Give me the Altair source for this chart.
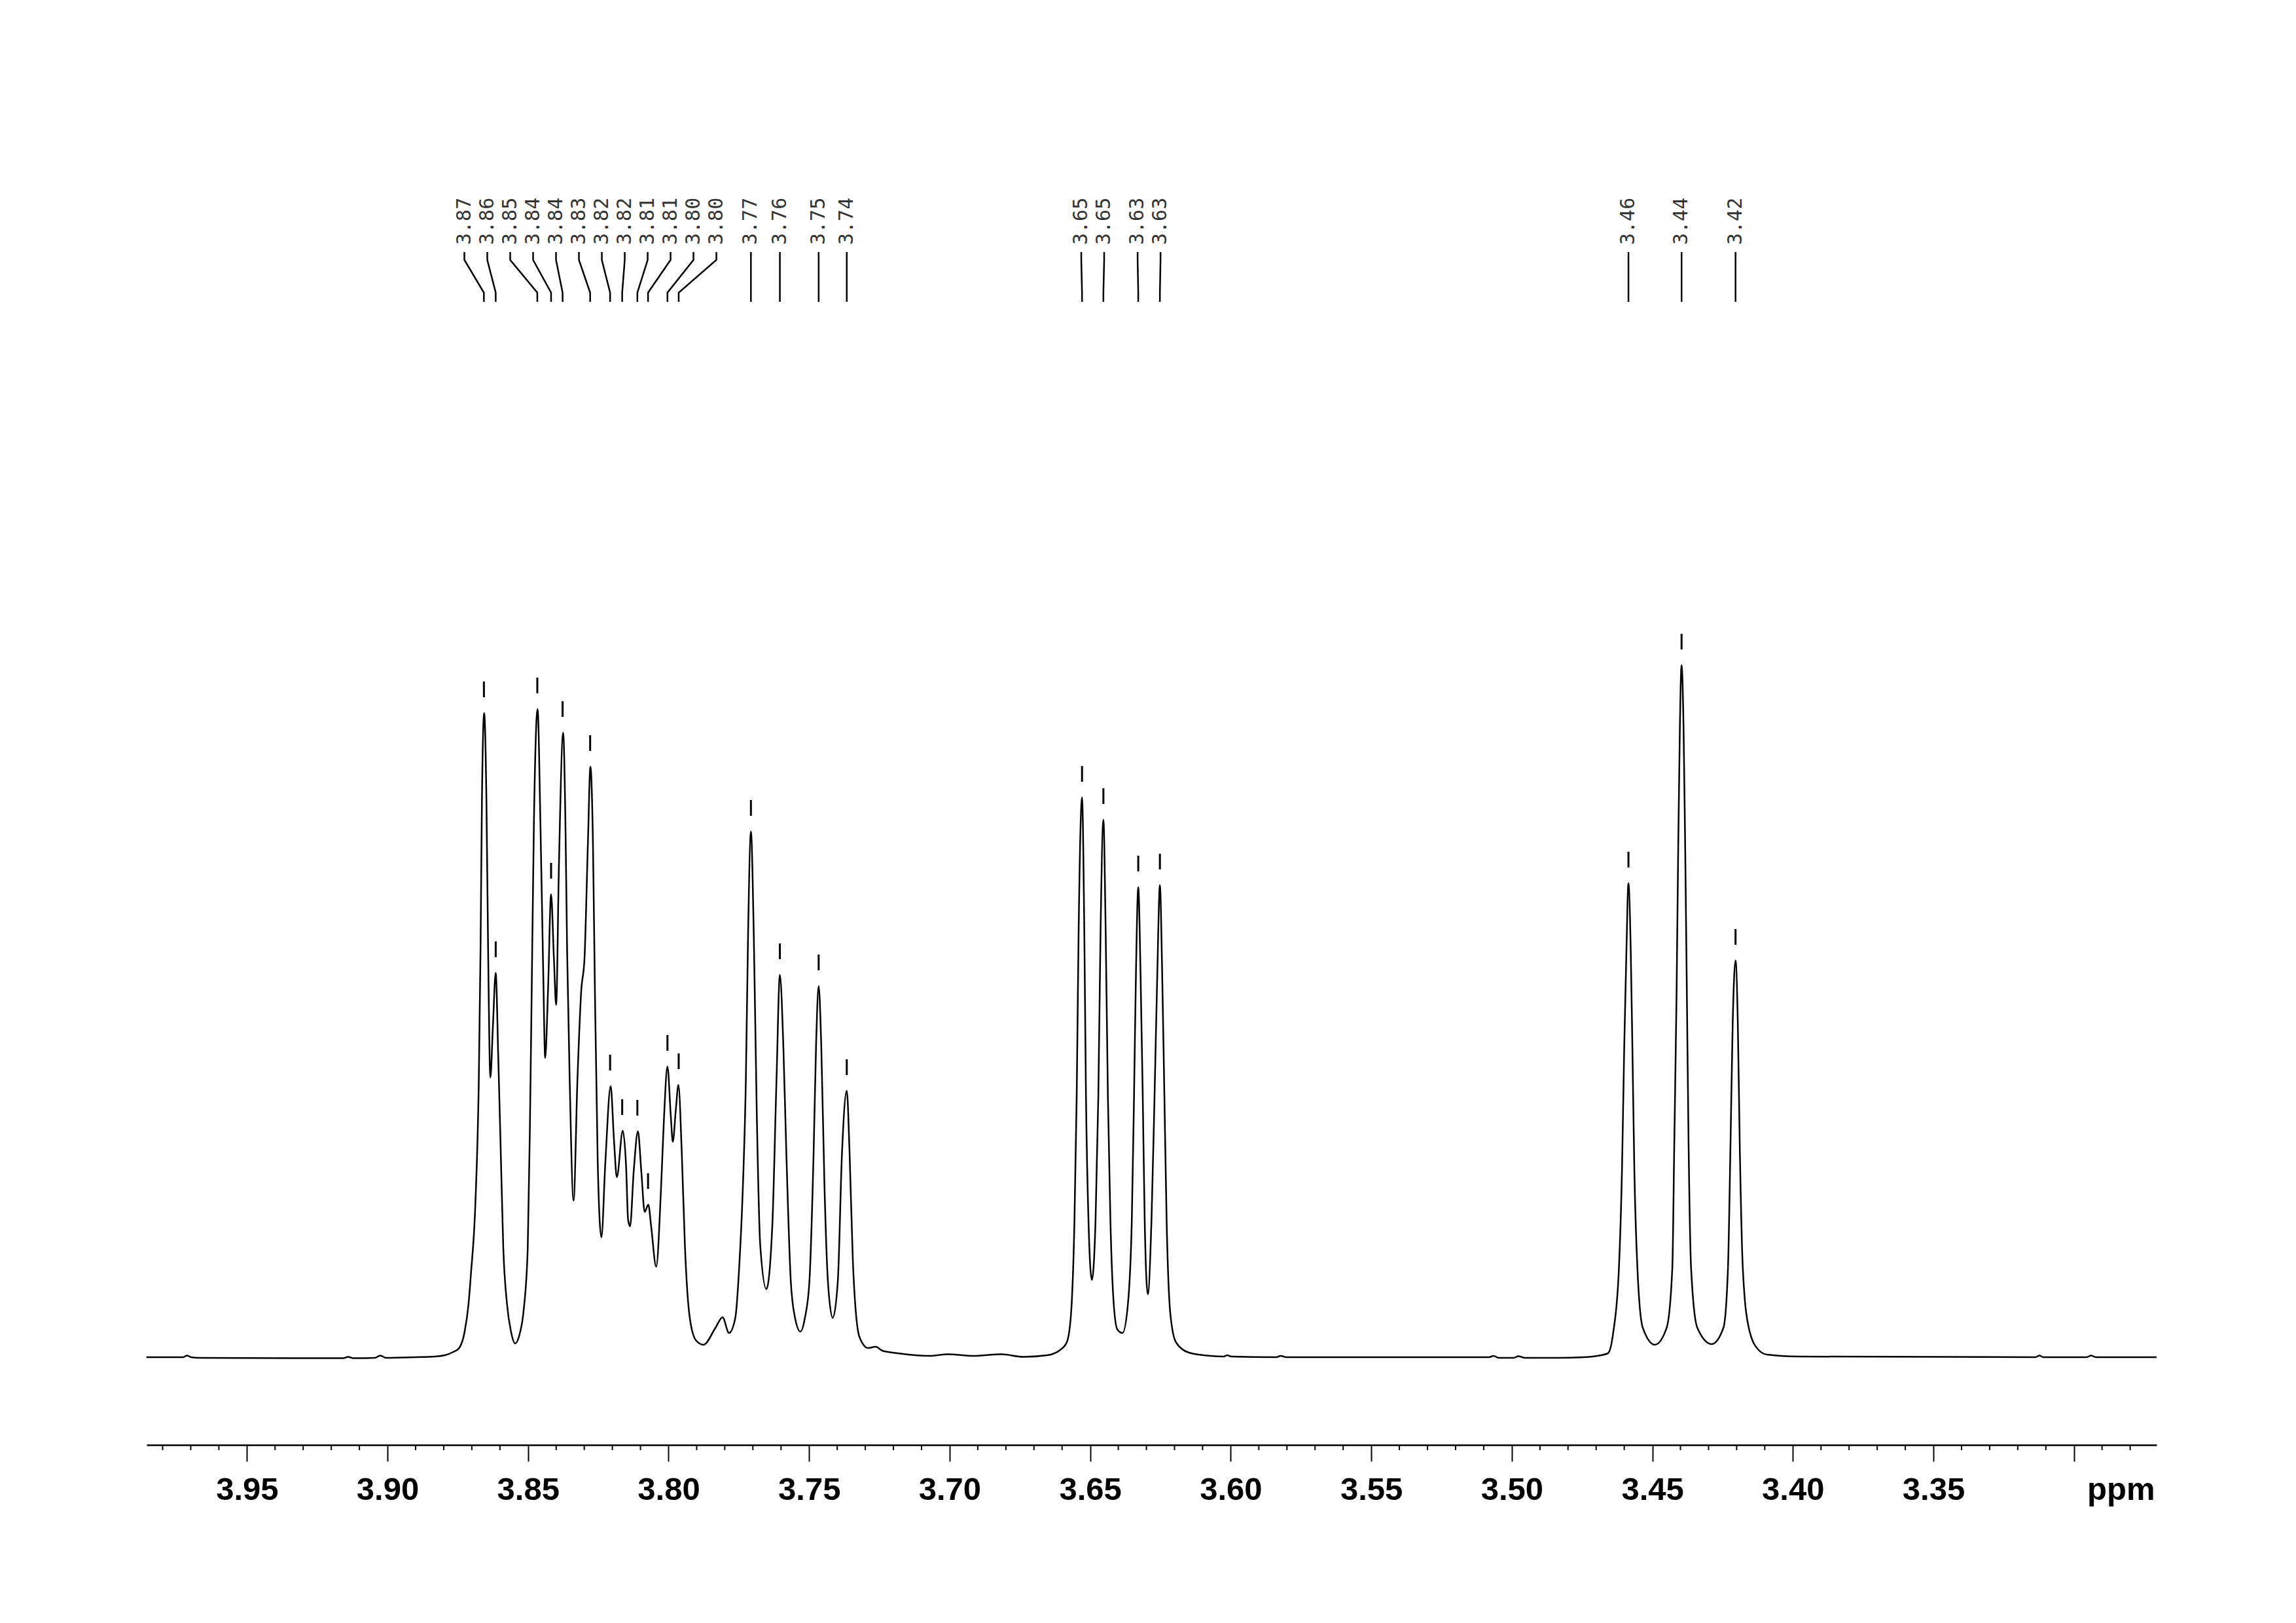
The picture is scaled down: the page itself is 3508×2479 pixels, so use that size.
import altair as alt
import pandas as pd

# ---------------- data ----------------
spectrum_ppm = [
    3.9858, 3.9769, 3.9727, 3.9713, 3.9699, 3.9669, 3.9157, 3.9140, 3.9122, 3.9045,
    3.9026, 3.9005, 3.8901, 3.8833, 3.8796, 3.8766, 3.8745, 3.8726, 3.8712, 3.8703,
    3.8687, 3.8675, 3.8669, 3.8664, 3.8656, 3.8648, 3.8642, 3.8634, 3.8625, 3.8615,
    3.8606, 3.8598, 3.8588, 3.8575, 3.8561, 3.8546, 3.8530, 3.8516, 3.8501, 3.8493,
    3.8487, 3.8479, 3.8466, 3.8456, 3.8446, 3.8439, 3.8429, 3.8418, 3.8408, 3.8400,
    3.8390, 3.8375, 3.8367, 3.8361, 3.8352, 3.8338, 3.8324, 3.8311, 3.8299, 3.8287,
    3.8278, 3.8269, 3.8262, 3.8252, 3.8239, 3.8225, 3.8206, 3.8194, 3.8184, 3.8163,
    3.8151, 3.8144, 3.8137, 3.8124, 3.8109, 3.8097, 3.8085, 3.8072, 3.8062, 3.8044,
    3.8027, 3.8016, 3.8004, 3.7992, 3.7985, 3.7974, 3.7965, 3.7953, 3.7942, 3.7926,
    3.7903, 3.7876, 3.7833, 3.7808, 3.7785, 3.7763, 3.7748, 3.7736, 3.7725, 3.7717,
    3.7707, 3.7697, 3.7686, 3.7674, 3.7652, 3.7631, 3.7616, 3.7604, 3.7592, 3.7581,
    3.7565, 3.7550, 3.7531, 3.7515, 3.7499, 3.7484, 3.7475, 3.7466, 3.7457, 3.7445,
    3.7433, 3.7416, 3.7398, 3.7383, 3.7366, 3.7356, 3.7344, 3.7321, 3.7290, 3.7263,
    3.7240, 3.7184, 3.7072, 3.7006, 3.6916, 3.6816, 3.6739, 3.6653, 3.6607, 3.6583,
    3.6568, 3.6556, 3.6548, 3.6541, 3.6529, 3.6521, 3.6515, 3.6506, 3.6494, 3.6481,
    3.6471, 3.6463, 3.6453, 3.6445, 3.6437, 3.6428, 3.6416, 3.6403, 3.6385, 3.6366,
    3.6352, 3.6344, 3.6337, 3.6329, 3.6321, 3.6313, 3.6306, 3.6295, 3.6282, 3.6271,
    3.6261, 3.6252, 3.6244, 3.6236, 3.6228, 3.6215, 3.6195, 3.6149, 3.6071, 3.6025,
    3.6013, 3.5997, 3.5838, 3.5822, 3.5803, 3.5629, 3.5081, 3.5065, 3.5046, 3.4993,
    3.4977, 3.4953, 3.4837, 3.4744, 3.4697, 3.4658, 3.4639, 3.4619, 3.4608, 3.4600,
    3.4592, 3.4585, 3.4577, 3.4571, 3.4564, 3.4553, 3.4534, 3.4491, 3.4449, 3.4429,
    3.4422, 3.4414, 3.4408, 3.4402, 3.4396, 3.4389, 3.4383, 3.4377, 3.4371, 3.4362,
    3.4340, 3.4289, 3.4247, 3.4231, 3.4222, 3.4214, 3.4204, 3.4196, 3.4189, 3.4178,
    3.4157, 3.4122, 3.4092, 3.3975, 3.3137, 3.3123, 3.3109, 3.2955, 3.2939, 3.2922,
    3.2706,
]
spectrum_intensity = [
    0, 0, 0, 2.5, 0, -1, -1.5, 0.5, -1.5, -1,
    2.5, -1, 0, 1, 3, 8, 14, 38, 80, 128,
    238, 427, 623, 850, 984, 850, 623, 427, 505, 587,
    460, 330, 167, 82, 40, 21, 35, 70, 167, 362,
    558, 818, 990, 818, 590, 457, 558, 707, 610, 538,
    753, 954, 818, 623, 427, 239, 427, 558, 610, 785,
    902, 785, 558, 297, 183, 297, 414, 330, 275, 346,
    290, 210, 200, 284, 345, 284, 222, 233, 200, 138,
    256, 368, 444, 368, 329, 379, 416, 312, 172, 65,
    26, 19, 45, 61, 37, 59, 143, 256, 424, 649,
    803, 649, 368, 172, 104, 200, 424, 584, 480, 312,
    115, 60, 39, 60, 115, 312, 480, 567, 480, 256,
    115, 60, 115, 312, 407, 312, 143, 31, 14, 16,
    10, 6, 2, 4.5, 2, 4.5, 0.5, 3, 11, 23,
    67, 208, 399, 654, 855, 654, 399, 208, 118, 208,
    399, 654, 821, 654, 399, 208, 80, 42, 37, 80,
    208, 399, 590, 718, 590, 399, 208, 96, 208, 399,
    590, 721, 590, 399, 208, 67, 23, 7, 2, 1,
    3, 1, 0, 2, 0, 0, 0, 2, -1, -1,
    1.5, -1, -1, 0, 2, 6, 38, 135, 286, 474,
    625, 724, 625, 474, 286, 135, 45, 19, 45, 135,
    324, 549, 775, 963, 1057, 963, 775, 549, 324, 135,
    45, 20, 45, 135, 324, 512, 606, 512, 324, 135,
    45, 11, 4, 1, 0, 2.5, 0, 0, 2.5, 0,
    0,
]

peak_ppm = [
    3.8657, 3.8615, 3.8467, 3.8418, 3.8377, 3.8279, 3.8208, 3.8165, 3.8111, 3.8073,
    3.8004, 3.7964, 3.7707, 3.7604, 3.7466, 3.7366, 3.6529, 3.6453, 3.6329, 3.6252,
    3.4585, 3.4396, 3.4204,
]
peak_height = [
    984, 587, 990, 707, 954, 902, 414, 346, 345, 233,
    444, 416, 803, 584, 567, 407, 855, 821, 718, 721,
    724, 1057, 606,
]
peak_labels = [
    "3.87", "3.86", "3.85", "3.84", "3.84", "3.83", "3.82", "3.82", "3.81", "3.81",
    "3.80", "3.80", "3.77", "3.76", "3.75", "3.74", "3.65", "3.65", "3.63", "3.63",
    "3.46", "3.44", "3.42",
]

major_ticks = [3.95, 3.90, 3.85, 3.80, 3.75, 3.70, 3.65, 3.60, 3.55, 3.50,
               3.45, 3.40, 3.35, 3.30]
minor_ticks = [round(v / 100, 2) for v in range(328, 399) if v % 5 != 0]

# ---------------- layout ----------------
X_DOMAIN = [3.2706, 3.9857]
PLOT_W = 3071
PLOT_H = 2007
Y_DOMAIN = [-134, 1873]          # 1 intensity unit == 1 px
LABEL_SEP = 35 / 4294            # minimum label spacing in ppm

# spread crowded peak labels evenly around their cluster mean
order = sorted(range(len(peak_ppm)), key=lambda i: -peak_ppm[i])
clusters = [[i] for i in order]


def positions(cl):
    m = sum(peak_ppm[i] for i in cl) / len(cl)
    return [m + ((len(cl) - 1) / 2 - k) * LABEL_SEP for k in range(len(cl))]


merged = True
while merged:
    merged = False
    for j in range(len(clusters) - 1):
        if positions(clusters[j])[-1] - positions(clusters[j + 1])[0] < LABEL_SEP - 1e-9:
            clusters[j] = clusters[j] + clusters[j + 1]
            del clusters[j + 1]
            merged = True
            break

label_pos = {}
for cl in clusters:
    for i, p in zip(cl, positions(cl)):
        label_pos[i] = p

spec_df = pd.DataFrame({"ppm": spectrum_ppm, "I": spectrum_intensity})
peaks_df = pd.DataFrame({"ppm": peak_ppm, "h": peak_height, "label": peak_labels,
                         "lx": [label_pos[i] for i in range(len(peak_ppm))]})

conn_rows = []
for i in range(len(peak_ppm)):
    lx = label_pos[i]
    px = peak_ppm[i]
    for seq, (xx, yy) in enumerate([(lx, 1688), (lx, 1676), (px, 1626), (px, 1612)]):
        conn_rows.append({"id": i, "seq": seq, "ppm": xx, "y": yy})
conn_df = pd.DataFrame(conn_rows)
minor_df = pd.DataFrame({"ppm": minor_ticks})

xscale = alt.Scale(domain=X_DOMAIN, reverse=True, nice=False, zero=False)
yscale = alt.Scale(domain=Y_DOMAIN, nice=False, zero=False)

x_axis = alt.Axis(
    values=major_ticks, grid=False,
    tickSize=25, tickWidth=2, tickColor="black",
    domainColor="black", domainWidth=2.5,
    labelFont="Liberation Sans", labelFontSize=49, labelFontWeight="bold",
    labelColor="black", labelPadding=19, labelFlush=False, labelOverlap=False,
    labelExpr="datum.value < 3.325 ? '' : format(datum.value, '.2f')",
    title="ppm", titleX=3068, titleY=83, titleAlign="right",
    titleBaseline="alphabetic", titleFont="Liberation Sans", titleFontSize=49,
    titleFontWeight="bold", titleColor="black",
)


def X(field):
    return alt.X(field, scale=xscale, axis=x_axis, title="ppm")


spectrum = alt.Chart(spec_df).mark_line(
    color="black", strokeWidth=2.5, interpolate="monotone"
).encode(
    x=X("ppm:Q"),
    y=alt.Y("I:Q", scale=yscale, axis=None),
    order=alt.Order("ppm:Q", sort="descending"),
)

minor = alt.Chart(minor_df).mark_rule(color="black", strokeWidth=2).encode(
    x=X("ppm:Q"),
    y=alt.value(PLOT_H),
    y2=alt.value(PLOT_H + 8),
)

peak_ticks = alt.Chart(peaks_df).transform_calculate(
    y1="datum.h + 24", y2="datum.h + 48"
).mark_rule(color="black", strokeWidth=3).encode(
    x=X("ppm:Q"),
    y=alt.Y("y1:Q", scale=yscale, axis=None),
    y2="y2:Q",
)

connectors = alt.Chart(conn_df).mark_line(color="black", strokeWidth=2.5).encode(
    x=X("ppm:Q"),
    y=alt.Y("y:Q", scale=yscale, axis=None),
    detail="id:N",
    order="seq:Q",
)

labels = alt.Chart(peaks_df).transform_calculate(ly="1699").mark_text(
    angle=270, align="left", baseline="middle",
    font="DejaVu Sans Mono", fontSize=30, color="#333333",
).encode(
    x=X("lx:Q"),
    y=alt.Y("ly:Q", scale=yscale, axis=None),
    text="label:N",
)

chart = alt.layer(spectrum, minor, peak_ticks, connectors, labels).properties(
    width=PLOT_W, height=PLOT_H,
    autosize=alt.AutoSizeParams(type="none"),
    padding={"left": 216, "top": 192, "right": 205, "bottom": 264},
    background="white",
).configure_view(stroke=None)

chart.save("out.html", embed_options={"renderer": "svg", "actions": False})
